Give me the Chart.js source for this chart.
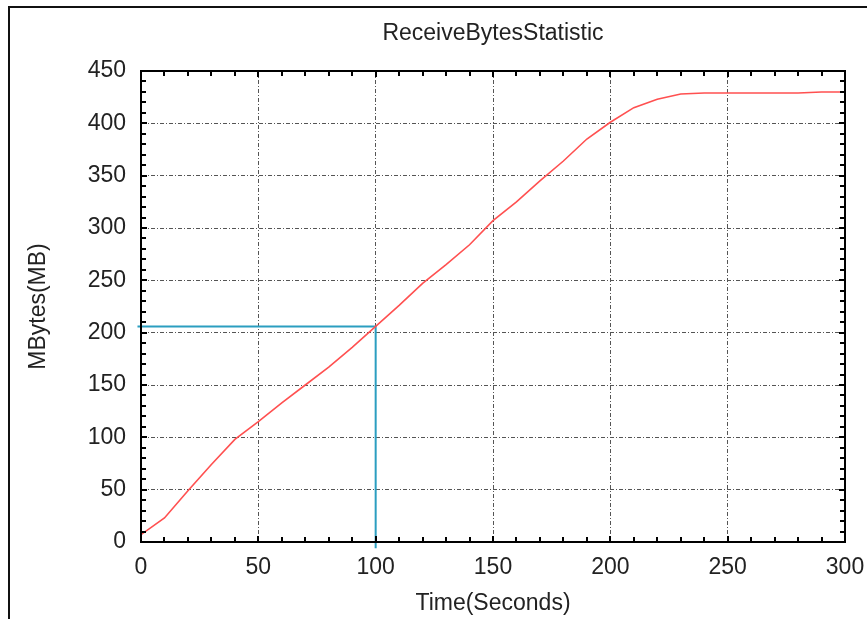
<!DOCTYPE html>
<html>
<head>
<meta charset="utf-8">
<script src="https://cdn.jsdelivr.net/npm/chart.js@4"></script>
<style>
  html, body { margin: 0; padding: 0; background: #fff; }
  canvas { display: block; }
</style>
</head>
<body>
<canvas id="chart" width="867" height="619"></canvas>
<script>
// data, one sample every 10 seconds
const times = [0, 10, 20, 30, 40, 50, 60, 70, 80, 90, 100, 110, 120, 130, 140, 150,
  160, 170, 180, 190, 200, 210, 220, 230, 240, 250, 260, 270, 280, 290, 300];
const mbytes = [7, 23, 49, 74, 98, 115, 133, 150, 167, 186, 206, 226, 247, 265, 284, 307,
  325, 345, 364, 385, 401, 415, 423, 428, 429, 429, 429, 429, 429, 430, 430];

const xTicks = [0, 50, 100, 150, 200, 250, 300];
const yTicks = [0, 50, 100, 150, 200, 250, 300, 350, 400, 450];

// guide lines to the value at 100 s
const markerTime = 100;
const markerBytes = mbytes[times.indexOf(markerTime)];

const FONT = "'Liberation Sans', Arial, sans-serif";
Chart.defaults.font.family = FONT;
Chart.defaults.color = '#222';

const points = times.map((t, i) => ({ x: t, y: mbytes[i] }));
const guide = [
  { x: -1.5, y: markerBytes },
  { x: markerTime, y: markerBytes },
  { x: markerTime, y: -6 }
];

const frame = {
  id: 'frame',
  beforeDraw(chart) {
    const ctx = chart.ctx;
    ctx.save();
    ctx.strokeStyle = '#111';
    ctx.lineWidth = 2;
    ctx.beginPath();
    ctx.moveTo(9, 619);
    ctx.lineTo(9, 7);
    ctx.lineTo(867, 7);
    ctx.stroke();
    ctx.restore();
  },
  afterDraw(chart) {
    const { ctx, chartArea: a, scales } = chart;
    ctx.save();
    ctx.strokeStyle = '#000';
    ctx.lineWidth = 2;
    ctx.strokeRect(a.left, a.top, a.right - a.left, a.bottom - a.top);
    // small inward ticks on all four sides
    ctx.beginPath();
    for (let v = 0; v <= 300; v += 10) {
      const px = Math.round(scales.x.getPixelForValue(v));
      const len = v % 50 === 0 ? 6 : 5;
      ctx.moveTo(px, a.bottom); ctx.lineTo(px, a.bottom - len);
      ctx.moveTo(px, a.top); ctx.lineTo(px, a.top + len);
    }
    for (let v = 0; v <= 450; v += 10) {
      const py = Math.round(scales.y.getPixelForValue(v));
      const len = v % 50 === 0 ? 6 : 5;
      ctx.moveTo(a.left, py); ctx.lineTo(a.left + len, py);
      ctx.moveTo(a.right, py); ctx.lineTo(a.right - len, py);
    }
    ctx.stroke();
    // title
    ctx.fillStyle = '#222';
    ctx.font = '23px ' + FONT;
    ctx.textAlign = 'center';
    ctx.textBaseline = 'middle';
    ctx.fillText('ReceiveBytesStatistic', (a.left + a.right) / 2, 34);
    ctx.restore();
  }
};

const gridStyle = {
  color: '#555',
  lineWidth: 1,
  drawTicks: false
};

new Chart(document.getElementById('chart'), {
  type: 'line',
  data: {
    datasets: [
      {
        data: guide,
        borderColor: '#2b9ec0',
        borderWidth: 2,
        pointRadius: 0,
        clip: false,
        order: 2
      },
      {
        data: points,
        borderColor: '#ff5050',
        borderWidth: 1.6,
        pointRadius: 0,
        tension: 0,
        order: 1
      }
    ]
  },
  options: {
    responsive: false,
    animation: false,
    layout: { padding: { left: 0, right: 22, top: 71, bottom: 0 } },
    plugins: {
      legend: { display: false },
      tooltip: { enabled: false },
      title: { display: false }
    },
    scales: {
      x: {
        type: 'linear',
        min: 0,
        max: 300,
        afterBuildTicks: s => { s.ticks = xTicks.map(v => ({ value: v })); },
        afterFit: s => { s.height = 77; s.paddingLeft = 0; s.paddingRight = 0; },
        grid: gridStyle,
        border: { display: true, color: '#000', width: 2, dash: [4, 2, 1, 2] },
        ticks: { font: { size: 23 }, padding: 12, maxRotation: 0, color: '#222' },
        title: {
          display: true,
          text: 'Time(Seconds)',
          font: { size: 23 },
          color: '#222',
          padding: { top: 0, bottom: 2 }
        }
      },
      y: {
        type: 'linear',
        min: 0,
        max: 450,
        afterBuildTicks: s => { s.ticks = yTicks.map(v => ({ value: v })); },
        afterFit: s => { s.width = 141; s.paddingTop = 0; s.paddingBottom = 0; },
        grid: gridStyle,
        border: { display: true, color: '#000', width: 2, dash: [4, 2, 1, 2] },
        ticks: { font: { size: 23 }, padding: 15, color: '#222' },
        title: {
          display: true,
          text: 'MBytes(MB)',
          font: { size: 23 },
          color: '#222',
          padding: { top: 25, bottom: 0 }
        }
      }
    }
  },
  plugins: [frame]
});
</script>
</body>
</html>
